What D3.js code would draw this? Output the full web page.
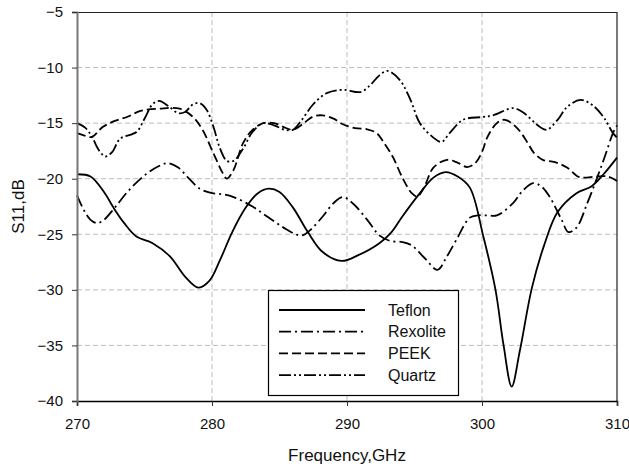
<!DOCTYPE html>
<html>
<head>
<meta charset="utf-8">
<script src="https://cdn.jsdelivr.net/npm/d3@7"></script>
<style>
  body { margin: 0; background: #fff; }
  text { font-family: "Liberation Sans", Arial, sans-serif; }
</style>
</head>
<body>
<div id="chart"></div>
<script>
// 1. Data
const teflonF = [270, 271, 272, 272.7, 273.5, 274.4, 275.6, 276.9, 278, 279, 279.8, 280.6, 281.5, 282.5, 283.4, 284.2, 285, 286, 287.1, 288.2, 289.6, 290.8, 292.4, 293.3, 294.1, 295.4, 296.4, 297.3, 298.2, 299.1, 300.1, 301, 301.6, 302.2, 302.8, 303.7, 304.6, 305.6, 307, 308.1, 309, 310];
const teflonDb = [-19.6, -19.8, -21.2, -22.6, -24, -25.2, -25.8, -27.0, -28.8, -29.8, -29.2, -27.3, -24.8, -22.6, -21.3, -20.9, -21.2, -22.6, -24.8, -26.6, -27.4, -26.9, -25.8, -24.8, -23.4, -21.3, -19.9, -19.4, -19.8, -20.8, -25.2, -30, -35, -38.7, -35.5, -29.8, -26, -23, -21.3, -20.7, -19.6, -18.1];

const rexoliteF = [270, 270.5, 271, 271.5, 272, 272.8, 273.8, 275, 276, 276.7, 277.5, 278.3, 279.1, 280, 280.8, 281.6, 283, 284.2, 285.3, 286.2, 286.7, 287.3, 288.2, 289, 289.7, 290.5, 291.5, 292.4, 293.2, 294.1, 294.8, 295.8, 296.7, 297.4, 298.1, 299.1, 299.7, 300.4, 301.1, 302.3, 303, 303.8, 304.4, 305, 305.9, 306.4, 307, 307.8, 308.5, 309.1, 309.7, 310];
const rexoliteDb = [-21.5, -22.8, -23.7, -24.0, -23.7, -22.6, -21.1, -19.7, -18.9, -18.6, -19.0, -20.0, -20.9, -21.3, -21.4, -21.65, -22.5, -23.5, -24.4, -25.0, -25.1, -24.6, -23.4, -22.2, -21.65, -22.3, -23.7, -25.1, -25.6, -25.7, -26.0, -27.2, -28.2, -27.0, -25.5, -23.5, -23.3, -23.3, -23.3, -22.2, -21.1, -20.4, -20.7, -21.6, -23.7, -24.8, -24.4, -22.2, -20.0, -18.0, -15.9, -15.2];

const peekF = [270, 270.5, 271.1, 271.9, 272.8, 273.7, 274.7, 276.1, 277.6, 278.6, 279.3, 280.1, 280.8, 281.1, 281.6, 282.3, 283, 283.8, 284.6, 285.4, 286, 286.8, 287.5, 288.2, 289, 289.7, 290.6, 291.5, 292.2, 292.7, 293.4, 294.1, 294.8, 295.2, 295.7, 296.4, 297.4, 298.1, 298.9, 299.5, 300, 300.4, 301.1, 301.7, 302.6, 303.4, 303.8, 304.5, 305.4, 306.3, 307.1, 307.5, 308.5, 309.3, 310];
const peekDb = [-15.9, -16.1, -16.25, -15.35, -14.8, -14.45, -13.9, -13.7, -13.7, -14.45, -15.6, -17.7, -19.5, -20.0, -19.2, -16.8, -15.6, -15.0, -15.0, -15.4, -15.6, -15.0, -14.4, -14.3, -14.6, -15.1, -15.45, -15.55, -15.9, -16.7, -18.05, -19.9, -21.3, -21.6, -20.8, -19.0, -18.3, -18.5, -18.95, -18.6, -17.6, -16.25, -15.0, -14.7, -15.45, -16.8, -17.6, -18.3, -18.5, -19.0, -19.8, -19.9, -19.8, -19.8, -20.2];

const quartzF = [270, 270.6, 271.1, 271.6, 272.1, 272.6, 273.2, 274.4, 275, 275.6, 276.1, 276.8, 277.5, 278, 278.6, 279.1, 279.6, 280.1, 280.6, 281.1, 281.6, 282.3, 283, 283.8, 284.6, 285.4, 286, 286.6, 287.5, 288.5, 289.7, 291, 291.7, 292.4, 293, 293.9, 294.7, 295.4, 296.4, 297, 297.6, 298.6, 300, 300.8, 302.3, 303, 304.3, 304.8, 305.6, 306.3, 307.3, 308.2, 309, 309.7, 310];
const quartzDb = [-15.0, -15.4, -16.2, -17.4, -18.0, -17.6, -16.4, -15.8, -14.6, -13.3, -13.0, -13.5, -14.1, -14.0, -13.3, -13.2, -13.8, -15.3, -17.3, -18.4, -18.4, -17.3, -15.8, -15.0, -15.2, -15.6, -15.6, -14.8, -13.3, -12.3, -12.0, -12.2, -11.6, -10.7, -10.3, -11.1, -12.9, -15.0, -16.3, -16.7, -15.9, -14.7, -14.45, -14.3, -13.65, -14.0, -15.35, -15.6, -14.7, -13.55, -12.9, -13.4, -14.45, -15.9, -16.3];

const seriesNames = ["Teflon", "Rexolite", "PEEK", "Quartz"];
const xTicks = [270, 280, 290, 300, 310];
const yTicks = [-5, -10, -15, -20, -25, -30, -35, -40];

const series = [
  { name: "Teflon", f: teflonF, db: teflonDb, dash: null },
  { name: "Rexolite", f: rexoliteF, db: rexoliteDb, dash: "12,4,2,4" },
  { name: "PEEK", f: peekF, db: peekDb, dash: "9,4" },
  { name: "Quartz", f: quartzF, db: quartzDb, dash: "12,3,2,3,2,3" },
];

// 2. Dimensions
const dims = {
  width: 629,
  height: 468,
  margin: { top: 12, right: 12, bottom: 67, left: 77 },
};
dims.containerWidth = dims.width - dims.margin.left - dims.margin.right;
dims.containerHeight = dims.height - dims.margin.top - dims.margin.bottom;

// 3. Container
const svg = d3
  .select("#chart")
  .append("svg")
  .attr("width", dims.width)
  .attr("height", dims.height);

const container = svg
  .append("g")
  .attr("transform", `translate(${dims.margin.left},${dims.margin.top})`);

// 4. Scales
const xScale = d3.scaleLinear().domain([270, 310]).range([0, dims.containerWidth]);
const yScale = d3.scaleLinear().domain([-40, -5]).range([dims.containerHeight, 0]);

// grid
container
  .append("g")
  .selectAll("line")
  .data(yTicks.filter((t) => t > -40 && t < -5))
  .join("line")
  .attr("x1", 0)
  .attr("x2", dims.containerWidth)
  .attr("y1", (d) => yScale(d))
  .attr("y2", (d) => yScale(d))
  .attr("stroke", "#bdbdbd")
  .attr("stroke-dasharray", "5,3");

container
  .append("g")
  .selectAll("line")
  .data(xTicks.filter((t) => t > 270 && t < 310))
  .join("line")
  .attr("x1", (d) => xScale(d))
  .attr("x2", (d) => xScale(d))
  .attr("y1", 0)
  .attr("y2", dims.containerHeight)
  .attr("stroke", "#bdbdbd")
  .attr("stroke-dasharray", "5,3");

// frame top / right
container
  .append("path")
  .attr("d", `M0,0.5H${dims.containerWidth}V${dims.containerHeight}`)
  .attr("fill", "none")
  .attr("stroke", "#222")
  .attr("stroke-width", 1.2);

// 5. Draw
const lineGenerator = d3
  .line()
  .x((d) => xScale(d[0]))
  .y((d) => yScale(d[1]))
  .curve(d3.curveCatmullRom.alpha(0.5));

series.forEach((s) => {
  container
    .append("path")
    .datum(s.f.map((f, i) => [f, s.db[i]]))
    .attr("d", lineGenerator)
    .attr("fill", "none")
    .attr("stroke", "black")
    .attr("stroke-width", 1.8)
    .attr("stroke-dasharray", s.dash);
});

// 6. Axes
const xAxisGroup = container
  .append("g")
  .attr("transform", `translate(0,${dims.containerHeight})`)
  .call(d3.axisBottom(xScale).tickValues(xTicks).tickSize(5).tickPadding(12));
xAxisGroup.select(".domain").attr("stroke", "black").attr("stroke-width", 1.6);

const yAxisGroup = container
  .append("g")
  .call(d3.axisLeft(yScale).tickValues(yTicks).tickSize(5).tickPadding(9));
yAxisGroup.select(".domain").attr("stroke", "#777").attr("stroke-width", 2);

[xAxisGroup, yAxisGroup].forEach((g) => {
  g.selectAll("text")
    .attr("fill", "#111")
    .style("font-size", "15px")
    .style("font-family", '"Liberation Sans", Arial, sans-serif');
  g.selectAll(".tick line").attr("stroke", "#333");
});

svg
  .append("text")
  .attr("x", dims.margin.left + dims.containerWidth / 2)
  .attr("y", 461)
  .attr("text-anchor", "middle")
  .style("font-size", "17px")
  .attr("fill", "#111")
  .text("Frequency,GHz");

svg
  .append("text")
  .attr("transform", `translate(24,${dims.margin.top + dims.containerHeight / 2}) rotate(-90)`)
  .attr("text-anchor", "middle")
  .style("font-size", "17px")
  .attr("fill", "#111")
  .text("S11,dB");

// Legend
const legend = svg.append("g").attr("transform", "translate(268,290)");
legend
  .append("rect")
  .attr("x", 0.5)
  .attr("y", 0.5)
  .attr("width", 190)
  .attr("height", 105)
  .attr("fill", "white")
  .attr("stroke", "black")
  .attr("stroke-width", 1.2);

const rows = legend
  .selectAll("g.row")
  .data(series)
  .join("g")
  .attr("class", "row")
  .attr("transform", (d, i) => `translate(0,${20 + i * 21.7})`);

rows
  .append("line")
  .attr("x1", 11)
  .attr("x2", 97)
  .attr("stroke", "black")
  .attr("stroke-width", 1.8)
  .attr("stroke-dasharray", (d) => d.dash);

rows
  .append("text")
  .attr("x", 120)
  .attr("dy", "0.36em")
  .style("font-size", "16px")
  .attr("fill", "#111")
  .text((d, i) => seriesNames[i]);
</script>
</body>
</html>
